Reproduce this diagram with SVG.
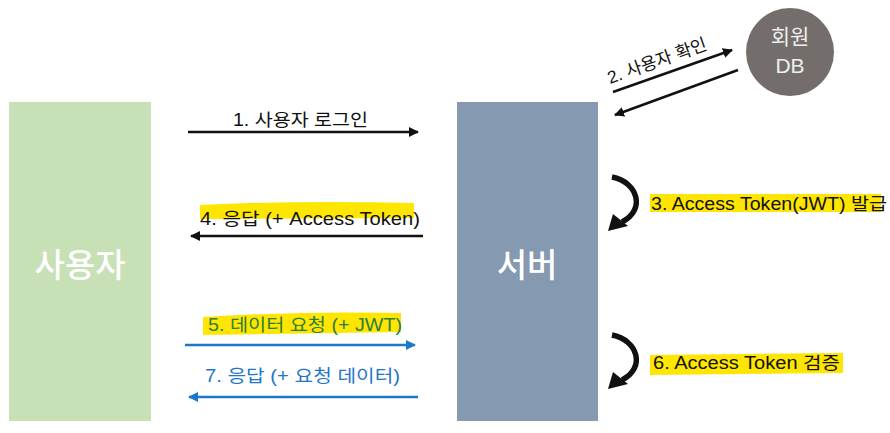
<svg xmlns="http://www.w3.org/2000/svg" width="890" height="433" viewBox="0 0 890 433">
<defs>
<style>
.lbl{font-family:"Liberation Sans","Noto Sans CJK KR",sans-serif;font-size:17.5px;fill:#111}
.big{font-family:"Noto Sans CJK KR","Liberation Sans",sans-serif;font-size:33px;font-weight:500;fill:#fff;text-anchor:middle}
.db{font-family:"Liberation Sans","Noto Sans CJK KR",sans-serif;font-size:21px;fill:#eee;text-anchor:middle}
.hl{fill:#ffe600}
.blk{stroke:#111;stroke-width:2.5;fill:none}
.blu{stroke:#1f77c8;stroke-width:2.5;fill:none}
.crv{stroke:#111;stroke-width:5.5;fill:none}
.crh{fill:#111}
</style>
<marker id="ab" viewBox="0 0 10 10" refX="9" refY="5" markerWidth="4" markerHeight="4" orient="auto" markerUnits="strokeWidth"><path d="M0,0 L10,5 L0,10 z" fill="#111"/></marker>
<marker id="au" viewBox="0 0 10 10" refX="9" refY="5" markerWidth="4" markerHeight="4" orient="auto" markerUnits="strokeWidth"><path d="M0,0 L10,5 L0,10 z" fill="#1f77c8"/></marker>
</defs>
<rect width="890" height="433" fill="#fff"/>
<g id="user">
<rect x="9" y="102" width="142" height="319" fill="#c7e0b6"/>
<text class="big" x="80" y="277">사용자</text>
</g>
<g id="server">
<rect x="457" y="102" width="141" height="319" fill="#8599b1"/>
<text class="big" x="527" y="277">서버</text>
</g>
<g id="db">
<circle cx="790" cy="52" r="44" fill="#736e6b"/>
<text class="db" x="790" y="44">회원</text>
<text class="db" x="790" y="73">DB</text>
</g>
<g id="connectors">
<line class="blk" x1="188" y1="132" x2="418" y2="132" marker-end="url(#ab)"/>
<line class="blk" x1="423" y1="236" x2="191" y2="236" marker-end="url(#ab)"/>
<line class="blu" x1="185" y1="345" x2="415" y2="345" marker-end="url(#au)"/>
<line class="blu" x1="418" y1="397" x2="189" y2="397" marker-end="url(#au)"/>
<line class="blk" x1="613" y1="92" x2="732" y2="50" marker-end="url(#ab)"/>
<line class="blk" x1="738" y1="70" x2="615" y2="115" marker-end="url(#ab)"/>
<path class="crv" d="M612,177 C638,182 646,210 622,222"/>
<polygon class="crh" points="608,231 613,214 628,226"/>
<path class="crv" d="M612,335 C638,340 646,368 622,380"/>
<polygon class="crh" points="608,389 613,372 628,384"/>
</g>
<g id="labels">
<text class="lbl" x="233" y="126" textLength="135" lengthAdjust="spacingAndGlyphs">1. 사용자 로그인</text>
<text class="lbl" transform="translate(610,84) rotate(-19.5)" textLength="104" lengthAdjust="spacingAndGlyphs">2. 사용자 확인</text>
<path class="hl" d="M200,205 Q300,200 414,203 L414,218 L200,219 z"/>
<text class="lbl" x="200" y="225" textLength="220" lengthAdjust="spacingAndGlyphs">4. 응답 (+ Access Token)</text>
<rect class="hl" x="650" y="194" width="231" height="18"/>
<text class="lbl" x="651" y="210" textLength="236" lengthAdjust="spacingAndGlyphs">3. Access Token(JWT) 발급</text>
<path class="hl" d="M203,317 Q300,311 401,313 L401,332 L203,335 z"/>
<text class="lbl" x="208" y="331" textLength="194" lengthAdjust="spacingAndGlyphs" style="fill:#2e7d3a">5. 데이터 요청 (+ JWT)</text>
<text class="lbl" x="205" y="382" textLength="195" lengthAdjust="spacingAndGlyphs" style="fill:#1f77c8">7. 응답 (+ 요청 데이터)</text>
<path class="hl" d="M650,355 L843,353 L843,373 L650,375 z"/>
<text class="lbl" x="653" y="369" textLength="187" lengthAdjust="spacingAndGlyphs">6. Access Token 검증</text>
</g>
</svg>
